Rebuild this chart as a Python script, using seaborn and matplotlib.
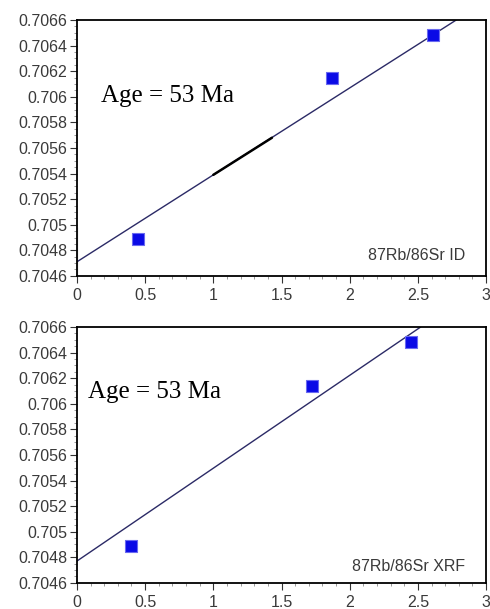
import matplotlib
matplotlib.use("Agg")
import matplotlib.pyplot as plt
import seaborn as sns
import pandas as pd
from matplotlib.ticker import MultipleLocator, FixedLocator

sns.set_theme(style="white")
plt.rcParams['font.family'] = ['Liberation Sans', 'DejaVu Sans']

# Data
id_x = [0.45, 1.87, 2.61]
id_y = [0.70489, 0.70615, 0.70648]
id_line_x = [0.0, 2.78]
id_line_y = [0.70471, 0.7066]
id_thick_x = [1.0, 1.43]
id_thick_y = [0.70539, 0.70568]
id_vert_x = [0.0, 0.0]
id_vert_y = [0.70461, 0.70498]

xrf_x = [0.40, 1.72, 2.45]
xrf_y = [0.70489, 0.70614, 0.70648]
xrf_line_x = [0.0, 2.52]
xrf_line_y = [0.70477, 0.7066]

y_ticks = [0.7046, 0.7048, 0.705, 0.7052, 0.7054, 0.7056, 0.7058, 0.706, 0.7062, 0.7064, 0.7066]
y_labels = ["0.7046", "0.7048", "0.705", "0.7052", "0.7054", "0.7056", "0.7058", "0.706", "0.7062", "0.7064", "0.7066"]
x_ticks = [0, 0.5, 1, 1.5, 2, 2.5, 3]
x_labels = ["0", "0.5", "1", "1.5", "2", "2.5", "3"]

fig = plt.figure(figsize=(4.9, 6.09), dpi=100)
ax1 = fig.add_axes([0.157, 0.547, 0.835, 0.420])
ax2 = fig.add_axes([0.157, 0.043, 0.835, 0.420])

line_color = "#2b2a66"
pt_color = "#0a0ae6"
serif = ["Liberation Serif", "DejaVu Serif"]


def style(ax):
    ax.set_xlim(0, 3)
    ax.set_ylim(0.7046, 0.7066)
    ax.yaxis.set_major_locator(FixedLocator(y_ticks))
    ax.set_yticklabels(y_labels)
    ax.xaxis.set_major_locator(FixedLocator(x_ticks))
    ax.set_xticklabels(x_labels)
    ax.xaxis.set_minor_locator(MultipleLocator(0.1))
    ax.yaxis.set_minor_locator(MultipleLocator(0.00005))
    ax.tick_params(axis="both", which="major", direction="out", length=5, width=0.8,
                   color="#333333", labelsize=11.5, labelcolor="#3a3a3a",
                   bottom=True, left=True, top=False, right=False, pad=2)
    ax.tick_params(axis="x", which="major", pad=4)
    ax.tick_params(axis="both", which="minor", direction="out", length=2.5, width=0.6,
                   color="#888888", bottom=True, left=True, top=False, right=False)
    for s in ax.spines.values():
        s.set_color("black")
        s.set_linewidth(1.3)
    ax.set_xlabel("")
    ax.set_ylabel("")
    ax.grid(False)


# Top panel
sns.lineplot(x=id_line_x, y=id_line_y, ax=ax1, color=line_color, linewidth=1.0)
sns.lineplot(x=id_thick_x, y=id_thick_y, ax=ax1, color="black", linewidth=1.8)
sns.lineplot(x=id_vert_x, y=id_vert_y, ax=ax1, color="black", linewidth=3.0, sort=False)
for ln in ax1.lines[-1:]:
    ln.set_clip_on(False)
    ln.set_zorder(6)
sns.scatterplot(x=id_x, y=id_y, ax=ax1, marker="s", s=70, color=pt_color,
                edgecolor="#6a6af0", linewidth=0.8, zorder=5)
ax1.text(0.18, 0.70601, "Age = 53 Ma", fontsize=18, family=serif,
         va="center", ha="left", color="black")
ax1.text(2.85, 0.70476, "87Rb/86Sr ID", fontsize=11.5, ha="right", va="center", color="#3a3a3a")
style(ax1)

# Bottom panel
sns.lineplot(x=xrf_line_x, y=xrf_line_y, ax=ax2, color=line_color, linewidth=1.0)
sns.scatterplot(x=xrf_x, y=xrf_y, ax=ax2, marker="s", s=70, color=pt_color,
                edgecolor="#6a6af0", linewidth=0.8, zorder=5)
ax2.text(0.08, 0.70609, "Age = 53 Ma", fontsize=18, family=serif,
         va="center", ha="left", color="black")
ax2.text(2.85, 0.70473, "87Rb/86Sr XRF", fontsize=11.5, ha="right", va="center", color="#3a3a3a")
style(ax2)

fig.savefig("out.png", dpi=100)
